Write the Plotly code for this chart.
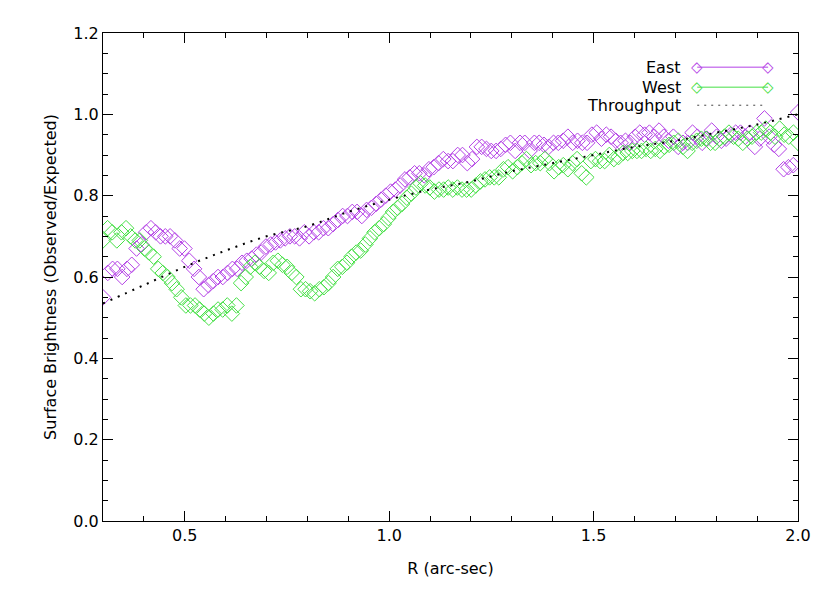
import numpy as np
import plotly.graph_objects as go

east = [
    0.55, 0.61, 0.62, 0.62, 0.60, 0.62, 0.63, 0.67, 0.68, 0.71, 0.72, 0.71, 0.70,
    0.70, 0.70, 0.69, 0.67, 0.67, 0.64, 0.62, 0.60, 0.57, 0.58, 0.59, 0.60, 0.60,
    0.61, 0.62, 0.62, 0.635, 0.64, 0.645, 0.655, 0.66, 0.675, 0.68, 0.685, 0.69,
    0.695, 0.70, 0.70, 0.695, 0.71, 0.70, 0.71, 0.71, 0.72, 0.72, 0.73, 0.74, 0.75, 0.75,
    0.76, 0.76, 0.75, 0.765, 0.77, 0.78, 0.79, 0.80, 0.81, 0.815, 0.825, 0.84,
    0.845, 0.855, 0.855, 0.85, 0.865, 0.87, 0.88, 0.89, 0.885, 0.885, 0.90, 0.90, 0.88,
    0.89, 0.92, 0.92, 0.915, 0.91, 0.91, 0.915, 0.925, 0.93, 0.91, 0.93, 0.93, 0.91,
    0.93, 0.93, 0.925, 0.92, 0.93, 0.93, 0.935, 0.945, 0.93, 0.935, 0.93, 0.93,
    0.95, 0.955, 0.94, 0.95, 0.945, 0.935, 0.93, 0.935, 0.93, 0.945, 0.955, 0.95,
    0.955, 0.945, 0.96, 0.945, 0.935, 0.945, 0.92, 0.93, 0.93,
    0.955, 0.945, 0.93, 0.94, 0.96, 0.945, 0.935, 0.94, 0.95, 0.955, 0.955, 0.945,
    0.955, 0.92, 0.94, 0.99, 0.945, 0.925, 0.915, 0.865, 0.87, 0.875, 1.005,
]
west = [
    0.69, 0.72, 0.71, 0.69, 0.71, 0.72, 0.70, 0.69, 0.69, 0.67, 0.66, 0.65, 0.62,
    0.61, 0.60, 0.585, 0.57, 0.55, 0.53, 0.53, 0.53, 0.52, 0.51, 0.50, 0.51, 0.52, 0.52,
    0.53, 0.51, 0.53, 0.585, 0.60, 0.625, 0.635, 0.625, 0.615, 0.61, 0.635,
    0.64, 0.63, 0.625, 0.61, 0.60, 0.57, 0.57, 0.565, 0.56, 0.57, 0.575, 0.585,
    0.60, 0.62, 0.625, 0.635, 0.65,
    0.66, 0.665, 0.68, 0.695, 0.71, 0.72, 0.73, 0.745, 0.76, 0.77, 0.78, 0.795, 0.805,
    0.82, 0.83, 0.825, 0.82, 0.81, 0.815, 0.815, 0.82, 0.815, 0.82, 0.815, 0.815,
    0.815, 0.825,
    0.835, 0.84, 0.845, 0.845, 0.845, 0.865, 0.87, 0.86, 0.87, 0.88, 0.89, 0.875,
    0.88, 0.88, 0.89, 0.88, 0.86, 0.87, 0.875, 0.865, 0.88, 0.89, 0.855, 0.845, 0.885,
    0.89, 0.885, 0.885, 0.90, 0.89, 0.895, 0.905, 0.905, 0.91, 0.91, 0.91, 0.915,
    0.91, 0.915, 0.91, 0.92, 0.925, 0.93, 0.935, 0.92, 0.91, 0.93, 0.935,
    0.94, 0.94, 0.93, 0.93, 0.94, 0.945, 0.955, 0.945, 0.94, 0.93, 0.94, 0.945,
    0.955, 0.955, 0.965, 0.955, 0.945, 0.965, 0.95, 0.945, 0.955, 0.93,
]
r_east = np.linspace(0.30, 2.00, len(east))
r_west = np.linspace(0.30, 2.00, len(west))

r_thru = [0.30, 0.40, 0.50, 0.60, 0.70, 0.80, 0.90, 1.00, 1.10, 1.20, 1.30,
          1.40, 1.50, 1.60, 1.70, 1.80, 1.90, 2.00]
thru = [0.535, 0.58, 0.625, 0.665, 0.70, 0.725, 0.76, 0.79, 0.815, 0.835, 0.86,
        0.88, 0.90, 0.92, 0.935, 0.955, 0.975, 1.00]

PURPLE = "#B441E6"
GREEN = "#45E045"
FONT = "DejaVu Sans"
FS = 16

fig = go.Figure()
fig.add_trace(go.Scatter(x=r_east, y=east, mode="markers", name="East",
                         marker=dict(symbol="diamond-open", size=12, color=PURPLE,
                                     line=dict(width=1))))
fig.add_trace(go.Scatter(x=r_west, y=west, mode="markers", name="West",
                         marker=dict(symbol="diamond-open", size=12, color=GREEN,
                                     line=dict(width=1))))
fig.add_trace(go.Scatter(x=r_thru, y=thru, mode="lines", name="Throughput",
                         line=dict(color="black", width=2, dash="2px,6px", shape="spline")))

# hand-made IDL style legend: label on the left, sample on the right
x0, x1, xt = 0.855, 0.957, 0.834
rows = [("East", PURPLE, 0.930), ("West", GREEN, 0.889)]
for label, col, yy in rows:
    fig.add_annotation(x=xt, y=yy, xref="paper", yref="paper", text=label,
                       showarrow=False, xanchor="right", yanchor="middle",
                       font=dict(size=FS, color="black", family=FONT))
    fig.add_shape(type="line", xref="paper", yref="paper", x0=x0, x1=x1, y0=yy, y1=yy,
                  line=dict(color=col, width=1))
    for xx in (x0, x1):
        fig.add_annotation(x=xx, y=yy, xref="paper", yref="paper", text="◇",
                           showarrow=False, xanchor="center", yanchor="middle",
                           font=dict(size=15, color=col, family="DejaVu Sans"))
fig.add_annotation(x=xt, y=0.852, xref="paper", yref="paper", text="Throughput",
                   showarrow=False, xanchor="right", yanchor="middle",
                   font=dict(size=FS, color="black", family=FONT))
fig.add_shape(type="line", xref="paper", yref="paper", x0=x0, x1=x1 - 0.004,
              y0=0.852, y1=0.852, line=dict(color="#444444", width=1, dash="2px,5px"))

axis_common = dict(showline=True, linecolor="black", linewidth=1, mirror="ticks",
                   ticks="inside", ticklen=10, tickcolor="black", showgrid=False,
                   zeroline=False, tickfont=dict(size=FS, family=FONT, color="black"))

fig.update_xaxes(range=[0.3, 2.0], tickvals=[0.5, 1.0, 1.5, 2.0], ticktext=["0.5", "1.0", "1.5", "2.0"],
                 minor=dict(ticks="inside", ticklen=5, tick0=0, dtick=0.1, tickcolor="black"),
                 title=dict(text="R (arc-sec)", font=dict(size=FS, family=FONT, color="black"),
                            standoff=18),
                 **axis_common)
fig.update_yaxes(range=[0, 1.2], tick0=0, dtick=0.2, tickformat=".1f",
                 minor=dict(ticks="inside", ticklen=5, tick0=0, dtick=0.05, tickcolor="black"),
                 title=dict(text="Surface Brightness (Observed/Expected)",
                            font=dict(size=FS, family=FONT, color="black"), standoff=12),
                 **axis_common)

# page body adds an 8px margin, so the figure box is shifted and shrunk to suit
fig.update_layout(width=822, height=585, showlegend=False,
                  margin=dict(l=95, r=32, t=25, b=72),
                  paper_bgcolor="white", plot_bgcolor="white",
                  font=dict(family=FONT, color="black"))

fig.write_html("out.html")
